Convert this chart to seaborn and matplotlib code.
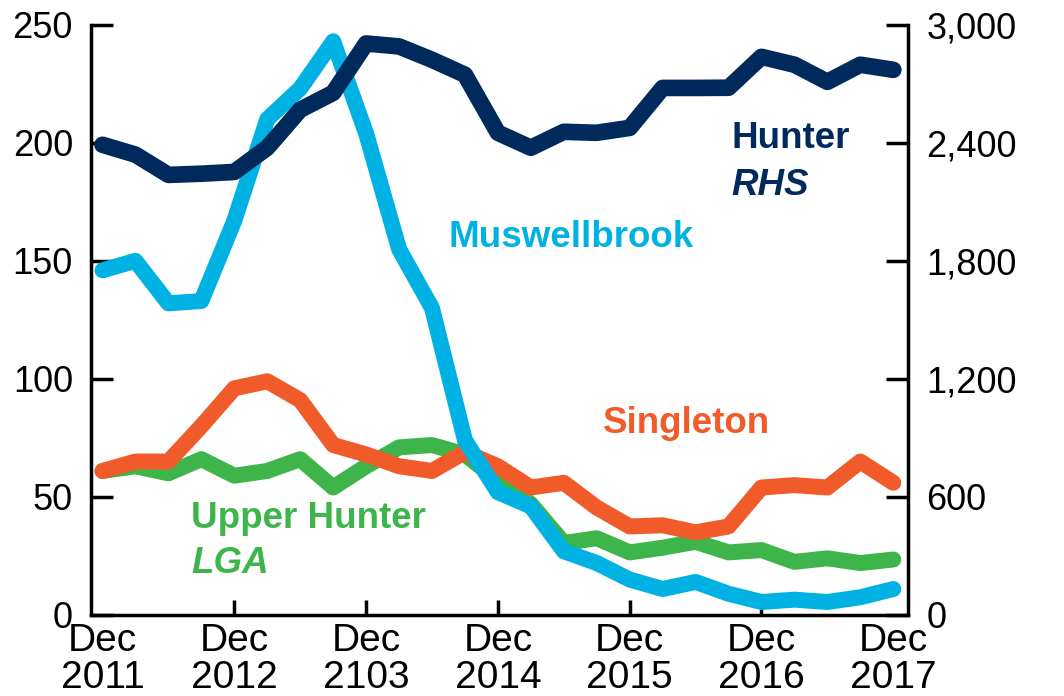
'''
Housing approvals style chart: Hunter region (RHS) vs local government areas
'''
import pandas as pd
import matplotlib
matplotlib.use('Agg')
import matplotlib.pyplot as plt
import seaborn as sns
from matplotlib.ticker import FuncFormatter

# Quarterly observations, Dec 2011 to Dec 2017
quarter = list(range(25))

muswellbrook = [146, 150, 132, 133, 167, 210, 223, 243, 204, 155, 130, 74, 52, 46, 27,
                22, 15, 11, 14, 9, 5.5, 6.5, 5.5, 7.5, 11]
singleton = [61, 65, 65, 80, 96, 99, 91, 72, 68, 63, 61, 69, 63, 54, 56,
             45.5, 37.5, 38, 35, 37.5, 54, 55, 54, 65, 56]
upper_hunter = [61, 63, 60, 66, 59, 61, 66, 54, 63, 71, 72, 68, 57, 47, 30.5,
                32.5, 26.5, 28.5, 31, 26.5, 27.5, 22.5, 24, 22, 23.5]
hunter = [2390, 2340, 2237, 2243, 2252, 2375, 2568, 2654, 2905, 2890, 2822, 2746, 2451,
          2375, 2456, 2451, 2476, 2679, 2679, 2680, 2837, 2797, 2710, 2797, 2771]

tick_labels = ['Dec\n2011', 'Dec\n2012', 'Dec\n2103', 'Dec\n2014',
               'Dec\n2015', 'Dec\n2016', 'Dec\n2017']

navy = '#002A5C'
cyan = '#00B2E3'
orange = '#F15A29'
green = '#3DB54A'

df = pd.DataFrame({'quarter': quarter, 'Muswellbrook': muswellbrook,
                   'Singleton': singleton, 'Upper Hunter': upper_hunter,
                   'Hunter': hunter})

sns.set_style('ticks')
plt.rcParams['font.family'] = ['Liberation Sans', 'DejaVu Sans']

fig = plt.figure(figsize=(10.64, 6.96), dpi=100)
ax = fig.add_axes([0.0855, 0.1164, 0.768, 0.848])

lw = 11.5
sns.lineplot(data=df, x='quarter', y='Upper Hunter', color=green, lw=lw, ax=ax,
             solid_capstyle='round')
sns.lineplot(data=df, x='quarter', y='Singleton', color=orange, lw=lw, ax=ax,
             solid_capstyle='round')
sns.lineplot(data=df, x='quarter', y='Muswellbrook', color=cyan, lw=lw, ax=ax,
             solid_capstyle='round')

ax2 = ax.twinx()
sns.lineplot(data=df, x='quarter', y='Hunter', color=navy, lw=12, ax=ax2,
             solid_capstyle='round')

ax.set_xlim(-0.35, 24.45)
ax.set_ylim(0, 250)
ax2.set_ylim(0, 3000)
ax.set_yticks([0, 50, 100, 150, 200, 250])
ax2.set_yticks([0, 600, 1200, 1800, 2400, 3000])
ax2.yaxis.set_major_formatter(FuncFormatter(lambda v, p: f'{int(v):,}'))
ax.set_xticks(range(0, 25, 4))
ax.set_xticklabels(tick_labels, linespacing=1.04)
ax.set_xlabel('')
ax.set_ylabel('')
ax2.set_ylabel('')

for a in (ax, ax2):
    a.spines['top'].set_visible(False)
    for s in a.spines.values():
        s.set_linewidth(2.5)
        s.set_color('black')
ax.spines['right'].set_visible(False)
ax2.spines['left'].set_visible(False)
ax2.spines['bottom'].set_visible(False)

ax.tick_params(axis='y', direction='in', length=16, width=2.5, labelsize=26, pad=13,
               colors='black')
ax2.tick_params(axis='y', direction='in', length=16, width=2.5, labelsize=26, pad=13,
                colors='black')
ax.tick_params(axis='x', direction='in', length=11, width=2.5, labelsize=28, pad=6,
               colors='black')
ticks = ax.xaxis.get_major_ticks()
ticks[0].tick1line.set_visible(False)
ticks[-1].tick1line.set_visible(False)

# Series labels
font = dict(fontsize=26.5, fontweight='bold', va='center', ha='left',
            transform=ax.transData)
ax2.text(10.5, 160, 'Muswellbrook', color=cyan, **font)
ax2.text(19.1, 202, 'Hunter', color=navy, **font)
ax2.text(19.1, 182, 'RHS', color=navy, style='italic', **font)
ax2.text(15.2, 81, 'Singleton', color=orange, **font)
ax2.text(2.7, 41, 'Upper Hunter', color=green, **font)
ax2.text(2.7, 22, 'LGA', color=green, style='italic', **font)

plt.savefig('out.png', dpi=100)
plt.close()
